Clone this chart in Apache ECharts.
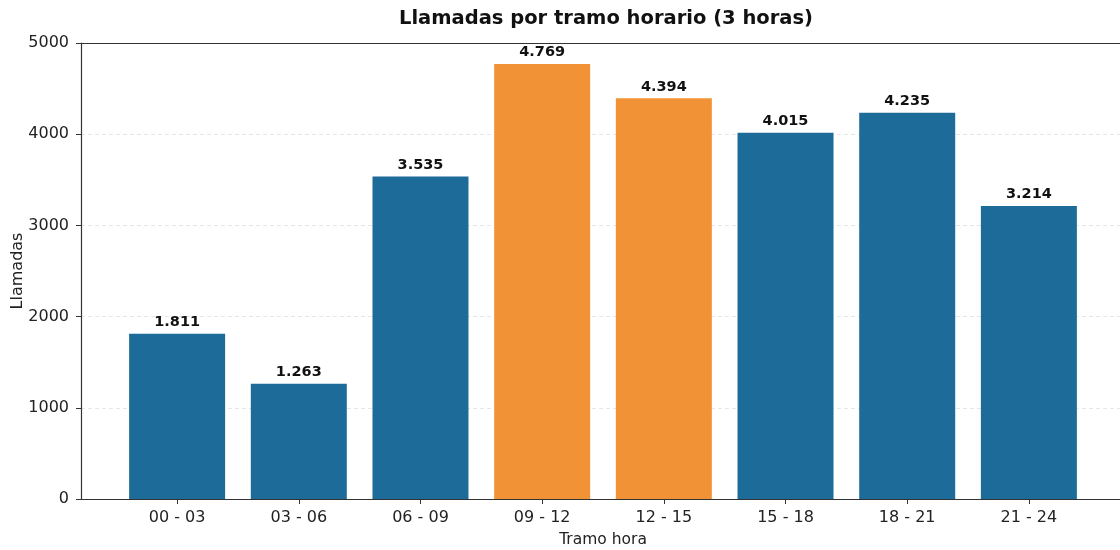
<!DOCTYPE html>
<html>
<head>
<meta charset="utf-8">
<script src="https://cdn.jsdelivr.net/npm/echarts@6/dist/echarts.min.js"></script>
<style>
  html, body { margin: 0; padding: 0; background: #fff; }
  #chart { width: 1120px; height: 550px; }
</style>
</head>
<body>
<div id="chart"></div>
<script>
// datos
var tramos = ['00 - 03', '03 - 06', '06 - 09', '09 - 12', '12 - 15', '15 - 18', '18 - 21', '21 - 24'];
var llamadas = [1811, 1263, 3535, 4769, 4394, 4015, 4235, 3214];
var picos = [false, false, false, true, true, false, false, false];
var yTicks = [0, 1000, 2000, 3000, 4000, 5000];

var AZUL = '#1d6b98';
var NARANJA = '#f29236';
var FUENTE = 'DejaVu Sans';

function miles(v) {
    return String(v).replace(/\B(?=(\d{3})+(?!\d))/g, '.');
}

function initChart() {
    var chart = echarts.init(document.getElementById('chart'));

    var datos = llamadas.map(function(v, i) {
        return {
            value: [i, v],
            itemStyle: { color: picos[i] ? NARANJA : AZUL }
        };
    });
    var posiciones = tramos.map(function(t, i) { return i; });

    var option = {
        backgroundColor: '#fff',
        animation: false,
        textStyle: { fontFamily: FUENTE },
        title: {
            text: 'Llamadas por tramo horario (3 horas)',
            left: 601,
            top: 4,
            textAlign: 'center',
            textStyle: { fontFamily: FUENTE, fontSize: 19.5, fontWeight: 'bold', color: '#111' }
        },
        grid: {
            left: 81, top: 43, width: 1044, height: 456,
            containLabel: false,
            outerBoundsMode: 'none'
        },
        xAxis: [{
            type: 'value',
            min: -0.79,
            max: 7.79,
            name: 'Tramo hora',
            nameLocation: 'middle',
            nameGap: 33,
            nameMoveOverlap: false,
            nameTextStyle: { fontSize: 15.5, color: '#222' },
            axisLine: { show: true, onZero: false, lineStyle: { color: '#333', width: 1.2 } },
            axisTick: { show: true, customValues: posiciones, length: 5, lineStyle: { color: '#333' } },
            axisLabel: {
                customValues: posiciones,
                fontSize: 16,
                color: '#222',
                margin: 11,
                formatter: function(v) { return tramos[Math.round(v)]; }
            },
            splitLine: { show: false }
        }, {
            type: 'value',
            position: 'top',
            min: -0.79,
            max: 7.79,
            axisLine: { show: true, onZero: false, lineStyle: { color: '#333', width: 1.2 } },
            axisTick: { show: false },
            axisLabel: { show: false },
            splitLine: { show: false }
        }],
        yAxis: {
            type: 'value',
            min: 0,
            max: 5000,
            interval: 1000,
            name: 'Llamadas',
            nameLocation: 'middle',
            nameGap: 55,
            nameMoveOverlap: false,
            nameTextStyle: { fontSize: 16, color: '#222' },
            axisLine: { show: true, onZero: false, lineStyle: { color: '#333', width: 1.2 } },
            axisTick: { show: true, length: 5, lineStyle: { color: '#333' } },
            axisLabel: {
                fontSize: 16,
                color: '#222',
                margin: 12,
                customValues: yTicks,
                formatter: function(v) { return String(v); }
            },
            splitLine: { show: true, lineStyle: { color: '#e6e6e6', type: [4, 3], width: 1 } }
        },
        series: [{
            type: 'bar',
            xAxisIndex: 0,
            barWidth: 96,
            data: datos,
            label: {
                show: true,
                position: 'top',
                distance: 4,
                fontFamily: FUENTE,
                fontSize: 14.5,
                fontWeight: 'bold',
                color: '#111',
                formatter: function(p) { return miles(p.value[1]); }
            }
        }]
    };

    chart.setOption(option);
}

document.addEventListener('DOMContentLoaded', initChart);
</script>
</body>
</html>
